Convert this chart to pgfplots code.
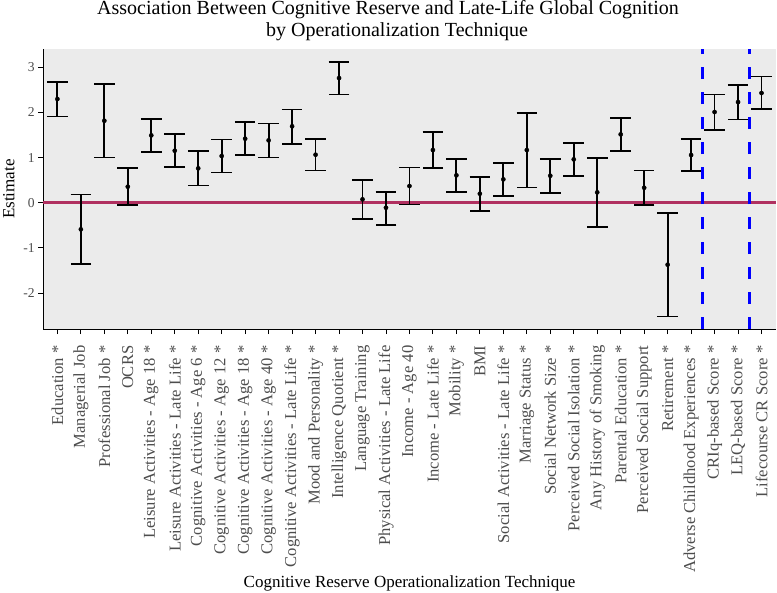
\documentclass[border=0pt]{standalone}
\usepackage{pgfplots}
\usepackage{pgfplotstable}
\pgfplotsset{compat=1.18}
\usepackage{fontspec}
\setmainfont{Liberation Serif}
\definecolor{panelgray}{HTML}{EBEBEB}
\definecolor{ticktext}{HTML}{4D4D4D}
\definecolor{rmaroon}{HTML}{B03060}

\pgfplotstableread{
x est lo hi
0 2.298 1.914 2.675
1 -0.590 -1.358 0.186
2 1.817 1.005 2.630
3 0.355 -0.044 0.769
4 1.493 1.130 1.855
5 1.153 0.791 1.522
6 0.762 0.385 1.146
7 1.035 0.673 1.404
8 1.419 1.057 1.788
9 1.382 1.005 1.759
10 1.693 1.308 2.069
11 1.064 0.710 1.419
12 2.763 2.401 3.118
13 0.075 -0.354 0.510
14 -0.110 -0.487 0.244
15 0.370 -0.036 0.784
16 1.168 0.769 1.573
17 0.607 0.237 0.975
18 0.200 -0.177 0.569
19 0.518 0.148 0.886
20 1.168 0.341 1.995
21 0.598 0.222 0.975
22 0.961 0.598 1.323
23 0.230 -0.538 0.990
24 1.515 1.146 1.884
25 0.332 -0.044 0.717
26 -1.373 -2.518 -0.228
27 1.057 0.702 1.419
28 2.010 1.618 2.401
29 2.231 1.848 2.608
30 2.431 2.076 2.793
}\datatable

\begin{document}
\begin{tikzpicture}
\useasboundingbox (-43.3pt,-263.9pt) rectangle (733.7pt,329.1pt);
\begin{axis}[
  at={(0,0)}, anchor=south west,
  scale only axis,
  width=732.3pt, height=279.8pt,
  xmin=-0.6, xmax=30.6,
  ymin=-2.8, ymax=3.4,
  axis x line=bottom, axis y line=left,
  axis line style={-, black, line width=1.1pt},
  axis background/.style={fill=panelgray},
  tick align=outside,
  major tick length=5pt,
  tick style={black, line width=0.9pt},
  xtick={0,...,30},
  ytick={-2,-1,0,1,2,3},
  yticklabels={-2,-1,0,1,2,3},
  xticklabels={Education *, Managerial Job, Professional Job *, OCRS,
    Leisure Activities - Age 18 *, Leisure Activities - Late Life *,
    Cognitive Activities - Age 6 *, Cognitive Activities - Age 12 *,
    Cognitive Activities - Age 18 *, Cognitive Activities - Age 40 *,
    Cognitive Activities - Late Life *, Mood and Personality *,
    Intelligence Quotient *, Language Training, Physical Activities - Late Life,
    Income - Age 40, Income - Late Life *, Mobility *, BMI,
    Social Activities - Late Life *, Marriage Status *, Social Network Size *,
    Perceived Social Isolation *, Any History of Smoking, Parental Education *,
    Perceived Social Support, Retirement *, Adverse Childhood Experiences *,
    CRIq-based Score *, LEQ-based Score *, Lifecourse CR Score *},
  xticklabel style={rotate=90, anchor=east, text=ticktext, font=\fontsize{16.6}{16.6}\selectfont},
  xticklabel shift=8pt,
  yticklabel style={text=ticktext, font=\fontsize{13.6}{13.6}\selectfont},
  clip=false,
]
\addplot[rmaroon, line width=3.2pt, forget plot] coordinates {(-0.6,0) (30.6,0)};
\addplot[black, only marks, mark=*, mark size=2.1pt,
  error bars/.cd, y dir=both, y explicit,
  error mark=|,
  error bar style={draw=black, line width=1.8pt},
  error mark options={black, mark size=10.3pt, line width=1.6pt}]
  table[x=x, y=est, y error plus expr=\thisrow{hi}-\thisrow{est}, y error minus expr=\thisrow{est}-\thisrow{lo}] {\datatable};
\addplot[blue, line width=2.8pt, dash pattern=on 12.5pt off 12.5pt] coordinates {(27.5,-2.8) (27.5,3.4)};
\addplot[blue, line width=2.8pt, dash pattern=on 12.5pt off 12.5pt] coordinates {(29.5,-2.8) (29.5,3.4)};
\end{axis}
\node[rotate=90, anchor=base, font=\fontsize{17}{17}\selectfont] at (-28.8pt,139.9pt) {Estimate};
\node[anchor=base, font=\fontsize{17}{17}\selectfont] at (366.2pt,-258.9pt) {Cognitive Reserve Operationalization Technique};
\node[anchor=base, font=\fontsize{20}{20}\selectfont] at (344.7pt,314.1pt) {Association Between Cognitive Reserve and Late-Life Global Cognition};
\node[anchor=base, font=\fontsize{20}{20}\selectfont] at (353.7pt,292.4pt) {by Operationalization Technique};
\end{tikzpicture}
\end{document}
